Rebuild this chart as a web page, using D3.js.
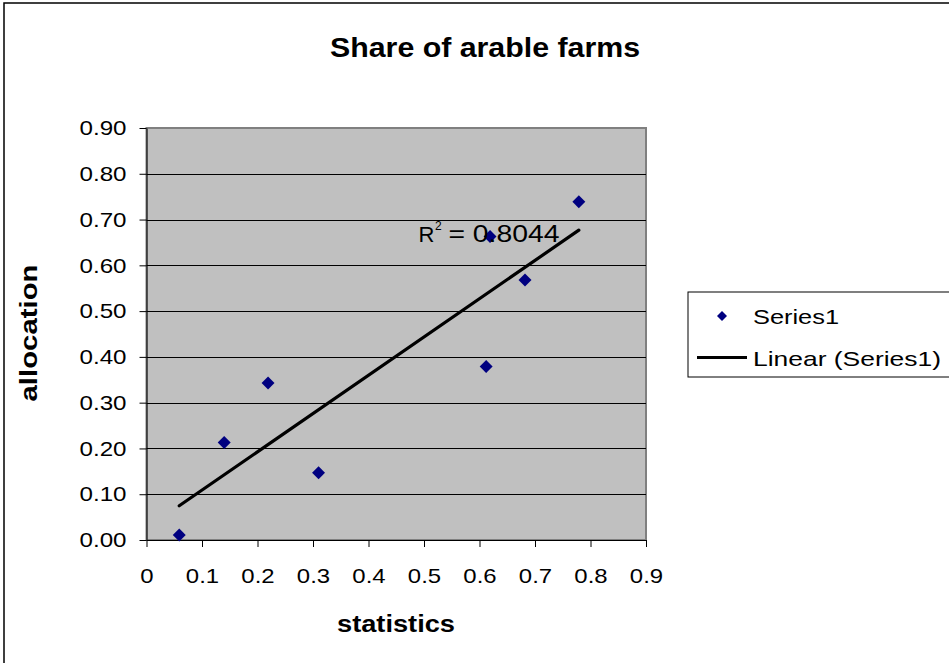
<!DOCTYPE html>
<html>
<head>
<meta charset="utf-8">
<style>
    body { margin: 0; background: #fff; }
    svg { display: block; font-family: 'Liberation Sans', Arial, sans-serif; }
    .axis .domain { stroke: #000; }
    .axis .tick line { stroke: #000; }
    .axis .tick text { fill: #000; font-size: 21px; }
</style>
</head>
<body>
<svg width="949" height="663"></svg>

<script src="https://d3js.org/d3.v7.min.js"></script>
<script>
    // values
    const statistics = [0.059, 0.140, 0.219, 0.310, 0.612, 0.619, 0.682, 0.779];
    const allocation = [0.011, 0.213, 0.343, 0.147, 0.379, 0.663, 0.568, 0.739];
    const xTicks = [0, 0.1, 0.2, 0.3, 0.4, 0.5, 0.6, 0.7, 0.8, 0.9];
    const yTicks = [0, 0.1, 0.2, 0.3, 0.4, 0.5, 0.6, 0.7, 0.8, 0.9];
    const rSquaredLabel = "0.8044";
    const seriesName = "Series1";

    let svg = d3.select("svg");
    let margin = { top: 128, right: 303, bottom: 123, left: 146.5 };
    let width = 949, height = 663;

    // the original font renders a bit wider, so stretch text horizontally
    function stretch(sel, f) {
        sel.each(function () {
            let w = this.getComputedTextLength();
            this.setAttribute("textLength", w * f);
            this.setAttribute("lengthAdjust", "spacingAndGlyphs");
        });
    }
    function fitTo(sel, w) {
        sel.attr("textLength", w).attr("lengthAdjust", "spacingAndGlyphs");
    }

    // outer chart border
    svg.append("rect")
        .attr("x", 4).attr("y", 3)
        .attr("width", 980).attr("height", 700)
        .attr("fill", "#fff")
        .attr("stroke", "#000")
        .attr("stroke-width", 1.5);

    let x = d3.scaleLinear()
        .domain([0, 0.9])
        .range([margin.left, width - margin.right]);

    let y = d3.scaleLinear()
        .domain([0, 0.9])
        .range([height - margin.bottom, margin.top]);

    // plot area
    svg.append("rect")
        .attr("x", x(0)).attr("y", y(0.9))
        .attr("width", x(0.9) - x(0)).attr("height", y(0) - y(0.9))
        .attr("fill", "#c0c0c0")
        .attr("stroke", "#808080")
        .attr("stroke-width", 2);

    // gridlines
    svg.append("g")
        .selectAll("line")
        .data(yTicks.filter(d => d > 0 && d < 0.9))
        .join("line")
        .attr("x1", x(0)).attr("x2", x(0.9))
        .attr("y1", d => Math.round(y(d)) + 0.5)
        .attr("y2", d => Math.round(y(d)) + 0.5)
        .attr("stroke", "#000")
        .attr("stroke-width", 1);

    let xAxis = svg.append("g")
        .attr("class", "x axis")
        .attr("transform", `translate(0,${y(0)})`)
        .call(d3.axisBottom(x).tickValues(xTicks).tickSize(7).tickSizeOuter(0).tickPadding(21)
            .tickFormat(d3.format("")));

    let yAxis = svg.append("g")
        .attr("class", "y axis")
        .attr("transform", `translate(${x(0)},0)`)
        .call(d3.axisLeft(y).tickValues(yTicks).tickSize(7).tickSizeOuter(0).tickPadding(13)
            .tickFormat(d3.format(".2f")));

    stretch(xAxis.selectAll(".tick text"), 1.14);
    stretch(yAxis.selectAll(".tick text"), 1.15);

    // trendline (least squares)
    let mx = d3.mean(statistics), my = d3.mean(allocation);
    let sxy = d3.sum(statistics, (v, i) => (v - mx) * (allocation[i] - my));
    let sxx = d3.sum(statistics, v => (v - mx) * (v - mx));
    let slope = sxy / sxx, intercept = my - slope * mx;
    let xExt = d3.extent(statistics);

    svg.append("line")
        .attr("x1", x(xExt[0])).attr("y1", y(intercept + slope * xExt[0]))
        .attr("x2", x(xExt[1])).attr("y2", y(intercept + slope * xExt[1]))
        .attr("stroke", "#000")
        .attr("stroke-width", 3.2)
        .attr("stroke-linecap", "round");

    // points
    let points = statistics.map((v, i) => ({ x: v, y: allocation[i] }));
    let diamond = d3.symbol().type(d3.symbolSquare).size(84);

    svg.append("g")
        .selectAll("path")
        .data(points)
        .join("path")
        .attr("d", diamond)
        .attr("transform", d => `translate(${x(d.x)},${y(d.y)}) rotate(45)`)
        .attr("fill", "#000080");

    // R squared label
    let rx = x(0.49), ry = y(0.65);
    svg.append("text")
        .attr("x", rx).attr("y", ry)
        .attr("font-size", "22px")
        .text("R");
    svg.append("text")
        .attr("x", rx + 16.5).attr("y", ry - 12)
        .attr("font-size", "12px")
        .text("2");
    svg.append("text")
        .attr("x", rx + 30).attr("y", ry)
        .attr("font-size", "23px")
        .text("= " + rSquaredLabel)
        .call(fitTo, 111);

    // title
    svg.append("text")
        .attr("x", 485).attr("y", 57)
        .attr("text-anchor", "middle")
        .attr("font-size", "27px")
        .attr("font-weight", "bold")
        .text("Share of arable farms")
        .call(fitTo, 310);

    // axis titles
    svg.append("text")
        .attr("x", 396).attr("y", 632)
        .attr("text-anchor", "middle")
        .attr("font-size", "23px")
        .attr("font-weight", "bold")
        .text("statistics")
        .call(fitTo, 118);

    svg.append("text")
        .attr("transform", "translate(37,333) rotate(-90)")
        .attr("text-anchor", "middle")
        .attr("font-size", "23px")
        .attr("font-weight", "bold")
        .text("allocation")
        .call(fitTo, 137);

    // legend
    let legend = svg.append("g");
    legend.append("rect")
        .attr("x", 688).attr("y", 292)
        .attr("width", 300).attr("height", 85)
        .attr("fill", "#fff")
        .attr("stroke", "#000")
        .attr("stroke-width", 1);

    legend.append("path")
        .attr("d", d3.symbol().type(d3.symbolSquare).size(50))
        .attr("transform", "translate(722,316) rotate(45)")
        .attr("fill", "#000080");

    legend.append("text")
        .attr("x", 753).attr("y", 324)
        .attr("font-size", "21px")
        .text(seriesName)
        .call(fitTo, 86);

    legend.append("line")
        .attr("x1", 697).attr("x2", 747)
        .attr("y1", 357.5).attr("y2", 357.5)
        .attr("stroke", "#000")
        .attr("stroke-width", 3);

    legend.append("text")
        .attr("x", 753).attr("y", 366)
        .attr("font-size", "21px")
        .text("Linear (" + seriesName + ")")
        .call(fitTo, 188);
</script>
</body>
</html>
